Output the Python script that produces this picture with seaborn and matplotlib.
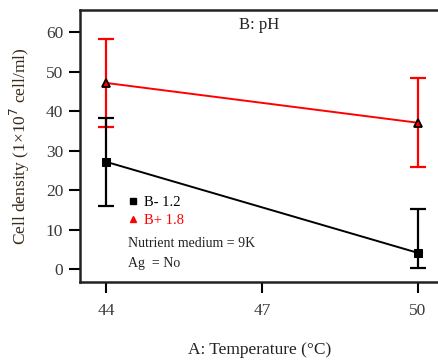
import pandas as pd
import matplotlib
matplotlib.use("Agg")
import matplotlib.pyplot as plt
import seaborn as sns
from matplotlib.lines import Line2D

temps = [44, 50]
minus_vals = [27.2, 4.1]
minus_err_low = [11.1, 3.8]
minus_err_high = [11.1, 11.1]
plus_vals = [47.2, 37.1]
plus_err_low = [11.1, 11.2]
plus_err_high = [11.1, 11.4]
xticks = [44, 47, 50]
yticks = [0, 10, 20, 30, 40, 50, 60]

df = pd.DataFrame({
    "temp": temps * 2,
    "density": minus_vals + plus_vals,
    "ph": ["B- 1.2"] * 2 + ["B+ 1.8"] * 2,
})

sns.set_style("white")
plt.rcParams["font.family"] = ["Liberation Serif", "DejaVu Serif"]

fig = plt.figure(figsize=(4.38, 3.61), dpi=100)
ax = fig.add_axes([0.1826, 0.2188, 0.82, 0.7535])

ax.errorbar(temps, plus_vals, yerr=[plus_err_low, plus_err_high], fmt="none",
            ecolor="red", elinewidth=1.6, capsize=5.5, capthick=1.6, zorder=2)
ax.errorbar(temps, minus_vals, yerr=[minus_err_low, minus_err_high], fmt="none",
            ecolor="black", elinewidth=1.6, capsize=5.5, capthick=1.6, zorder=2)

sns.lineplot(data=df[df["ph"] == "B+ 1.8"], x="temp", y="density", ax=ax,
             color="red", linewidth=1.4, marker="^", markersize=6,
             markerfacecolor="red", markeredgecolor="black", markeredgewidth=1.3,
             zorder=3)
sns.lineplot(data=df[df["ph"] == "B- 1.2"], x="temp", y="density", ax=ax,
             color="black", linewidth=1.4, marker="s", markersize=6,
             markerfacecolor="black", markeredgecolor="black", zorder=3)

ax.set_xlim(43.5, 50.41)
ax.set_ylim(-3.3, 65.7)
ax.set_xticks(xticks)
ax.set_yticks(yticks)
ax.tick_params(axis="both", direction="out", length=8, width=1.5, color="black",
               labelsize=12.5, labelcolor="#3a3a3a", bottom=True, left=True, pad=4)
ax.tick_params(axis="x", pad=7)
for side in ["left", "bottom", "top"]:
    ax.spines[side].set_linewidth(1.8)
    ax.spines[side].set_color("#222222")
ax.spines["right"].set_visible(False)

ax.set_xlabel("A: Temperature (°C)", fontsize=12.5, color="#222222", labelpad=17)
ax.set_ylabel("Cell density (1×10$^7$ cell/ml)", fontsize=12.5, color="#3a2a1a",
              labelpad=10)
ax.set_title("B: pH", fontsize=12, color="#222222", y=0.9, x=0.5)

handles = [
    Line2D([], [], linestyle="none", marker="s", color="black", markersize=5),
    Line2D([], [], linestyle="none", marker="^", color="red", markersize=5),
]
ax.legend(handles, ["B- 1.2", "B+ 1.8"], labelcolor=["black", "red"],
          frameon=False, fontsize=10.5, loc="upper left",
          bbox_to_anchor=(0.11, 0.345), handlelength=0.8, handletextpad=0.4,
          labelspacing=0.35, borderpad=0)
ax.text(0.134, 0.13, "Nutrient medium = 9K", transform=ax.transAxes,
        fontsize=10, color="#222222")
ax.text(0.134, 0.055, "Ag  = No", transform=ax.transAxes,
        fontsize=10, color="#222222")

fig.savefig("out.png", dpi=100)
